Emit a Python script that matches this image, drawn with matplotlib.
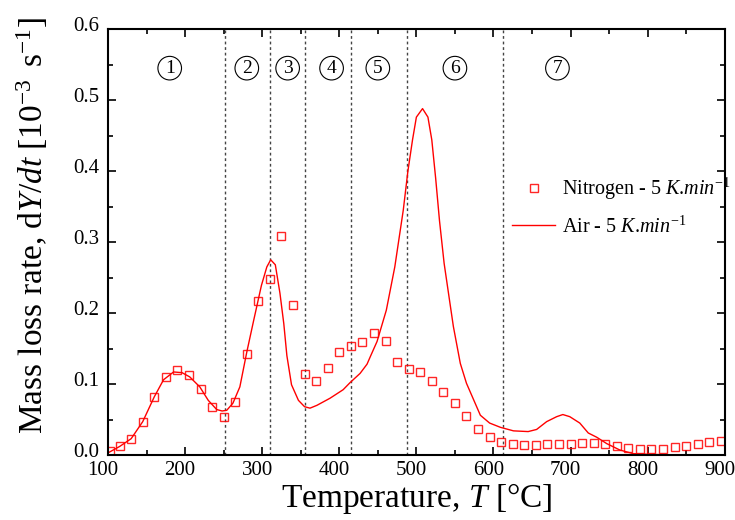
import numpy as np
import matplotlib
matplotlib.use("Agg")
import matplotlib.pyplot as plt
from matplotlib.ticker import MultipleLocator
from matplotlib.transforms import ScaledTranslation

plt.rcParams['font.family'] = ['Liberation Serif', 'DejaVu Serif']
plt.rcParams['mathtext.fontset'] = 'custom'
plt.rcParams['mathtext.rm'] = 'Liberation Serif'
plt.rcParams['mathtext.it'] = 'Liberation Serif:italic'

# nitrogen, 5 K/min (squares)
t_n2 = [102, 115, 130, 145, 160, 175, 190, 205, 220, 235, 250, 265, 280, 295,
        310, 325, 340, 355, 370, 385, 400, 415, 430, 445, 460, 475, 490, 505,
        520, 535, 550, 565, 580, 595, 610, 625, 640, 655, 670, 685, 700, 715,
        730, 745, 760, 775, 790, 805, 820, 835, 850, 865, 880, 895]
r_n2 = [0.005, 0.012, 0.023, 0.047, 0.082, 0.110, 0.120, 0.113, 0.093, 0.068,
        0.053, 0.074, 0.142, 0.217, 0.248, 0.308, 0.211, 0.114, 0.104, 0.122,
        0.145, 0.153, 0.159, 0.172, 0.160, 0.131, 0.121, 0.117, 0.104, 0.089,
        0.073, 0.055, 0.037, 0.025, 0.018, 0.015, 0.014, 0.014, 0.015, 0.016,
        0.016, 0.017, 0.017, 0.015, 0.013, 0.010, 0.009, 0.008, 0.009, 0.011,
        0.013, 0.015, 0.018, 0.020]

# air, 5 K/min (line)
t_air = [100, 115, 130, 145, 160, 172, 185, 196, 206, 219, 230, 241, 248, 254,
         262, 271, 280, 289, 299, 306, 311, 317, 323, 328, 332, 338, 347, 355,
         362, 371, 388, 405, 414, 427, 436, 440, 449, 461, 472, 483, 489, 495,
         500, 508, 515, 520, 525, 530, 536, 543, 548, 557, 565, 583, 595, 609,
         626, 645, 656, 669, 682, 690, 699, 712, 723, 734, 747, 764, 781, 803,
         840, 868, 900]
r_air = [0.003, 0.012, 0.023, 0.047, 0.082, 0.106, 0.117, 0.116, 0.110, 0.096,
         0.077, 0.064, 0.062, 0.063, 0.073, 0.096, 0.145, 0.190, 0.239, 0.265,
         0.275, 0.268, 0.228, 0.185, 0.140, 0.099, 0.077, 0.068, 0.066, 0.070,
         0.080, 0.092, 0.102, 0.115, 0.128, 0.138, 0.160, 0.204, 0.265, 0.345,
         0.400, 0.444, 0.476, 0.488, 0.476, 0.444, 0.390, 0.330, 0.270, 0.218,
         0.181, 0.129, 0.101, 0.056, 0.045, 0.039, 0.034, 0.033, 0.036, 0.047,
         0.054, 0.057, 0.054, 0.045, 0.031, 0.025, 0.016, 0.007, 0.002, 0.001,
         0.0, 0.0, 0.0]

# stage boundaries and labels
bounds = [252, 310, 356, 415, 488, 612]
stage_x = [180, 280, 333, 390, 450, 550, 683]
stage_lbl = ['1', '2', '3', '4', '5', '6', '7']

fig = plt.figure(figsize=(7.35, 5.2), dpi=100)
ax = fig.add_axes([0.147, 0.125, 0.839, 0.819])

for b in bounds:
    ax.axvline(b, color='#444444', ls=(0, (2, 2)), lw=1, zorder=1)

ax.plot(t_n2, r_n2, ls='none', marker='s', ms=6, mfc='none', mec='red',
        mew=1, alpha=0.85, label=r'Nitrogen - 5 $\mathit{K}$.$\mathit{min}^{-1}$')
ax.plot(t_air, r_air, color='red', lw=1,
        label=r'Air - 5 $\mathit{K}$.$\mathit{min}^{-1}$')

for x, s in zip(stage_x, stage_lbl):
    ax.text(x, 0.545, s, ha='center', va='center', fontsize=14,
            bbox=dict(boxstyle='circle,pad=0.17', fc='white', ec='black', lw=0.8))

ax.set_xlim(100, 900)
ax.set_ylim(0, 0.6)
ax.xaxis.set_major_locator(MultipleLocator(100))
ax.xaxis.set_minor_locator(MultipleLocator(50))
ax.yaxis.set_major_locator(MultipleLocator(0.1))
ax.yaxis.set_minor_locator(MultipleLocator(0.05))
ax.yaxis.set_major_formatter(matplotlib.ticker.FormatStrFormatter('%.1f'))
ax.tick_params(which='both', direction='in', top=True, right=True,
               width=1.2, labelsize=15)
ax.tick_params(axis='x', pad=4)
ax.tick_params(axis='y', pad=6)
ax.tick_params(which='major', length=6)
ax.tick_params(which='minor', length=3.5)
for sp in ax.spines.values():
    sp.set_linewidth(1.5)

xoff = ScaledTranslation(-5 / 100, 0, fig.dpi_scale_trans)
for lbl in ax.get_xticklabels():
    lbl.set_transform(lbl.get_transform() + xoff)
yoff = ScaledTranslation(0, 5 / 100, fig.dpi_scale_trans)
for lbl in ax.get_yticklabels():
    lbl.set_transform(lbl.get_transform() + yoff)

ax.set_xlabel(r'Temperature, $\mathit{T}$ [°C]', fontsize=24, labelpad=1)
ax.set_ylabel(r'Mass loss rate, d$\mathit{Y/dt}$ [$\mathit{10}^{\mathit{-3}}\,$'
              r' s$^{\mathit{-1}}$]', fontsize=24)
ax.yaxis.set_label_coords(-0.094, 0.54)

ax.legend(loc='upper left', bbox_to_anchor=(0.655, 0.655), frameon=False,
          fontsize=14.5, handlelength=2.15, handletextpad=0.35,
          labelspacing=0.7, borderpad=0, borderaxespad=0)

fig.savefig('out.png', dpi=100)
